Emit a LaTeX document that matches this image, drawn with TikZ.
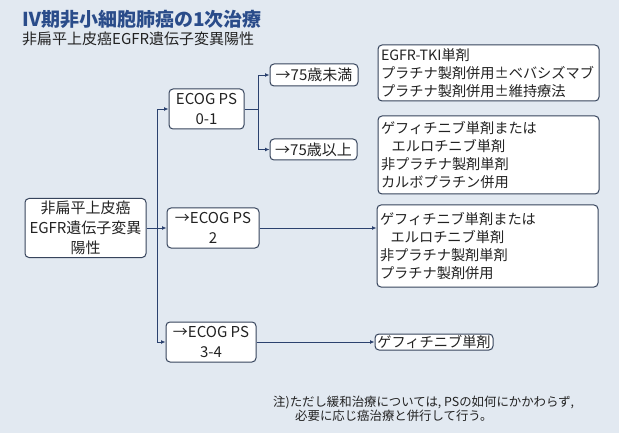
\documentclass[tikz,border=0pt]{standalone}
\usepackage{fontspec}
\setmainfont{Noto Sans CJK JP}
\usetikzlibrary{arrows.meta}
\definecolor{paper}{HTML}{E2E9F1}
\definecolor{frame}{HTML}{36445C}
\definecolor{wirec}{HTML}{2B416E}
\definecolor{headblue}{HTML}{2A4C8A}
\definecolor{ink}{HTML}{222222}
\begin{document}
\begin{tikzpicture}[x=1pt,y=-1pt,
  box/.style={draw=frame, line width=1pt, rounded corners=4pt, fill=white,
    inner sep=0pt, text=ink, font=\fontsize{14.2}{17.7}\selectfont},
  cbox/.style={box, align=center, font=\fontsize{15}{20}\selectfont},
  lbox/.style={box, align=left, inner xsep=3pt},
  wire/.style={draw=wirec, line width=0.9pt, -{Latex[length=4.5pt,width=4pt]}},
  bare/.style={draw=wirec, line width=0.9pt},
  notetext/.style={anchor=west, inner sep=0pt, text=ink, font=\fontsize{12.4}{13}\selectfont}]
% canvas
\path[fill=paper] (0,0) rectangle (619,433);
\useasboundingbox (0,0) rectangle (619,433);

% headings
\node[anchor=west, inner sep=0pt, text=headblue,
  font=\fontsize{19}{19}\selectfont\bfseries] (title) at (22,19.5) {Ⅳ期非小細胞肺癌の1次治療};
\node[anchor=west, inner sep=0pt, text=ink,
  font=\fontsize{15}{16}\selectfont] (sub) at (22,38.5) {非扁平上皮癌EGFR遺伝子変異陽性};

% decision boxes
\node[cbox, minimum width=121pt, minimum height=59pt] (root) at (85.5,228) {非扁平上皮癌\\EGFR遺伝子変異\\陽性};
\node[cbox, minimum width=75pt, minimum height=40pt] (ps01) at (206.5,109) {ECOG PS\\0-1};
\node[cbox, minimum width=92pt, minimum height=40pt] (ps2) at (213,228) {→ECOG PS\\2};
\node[cbox, minimum width=90pt, minimum height=40pt] (ps34) at (211,342) {→ECOG PS\\3-4};
\node[box, minimum width=88pt, minimum height=22pt, font=\fontsize{15}{17}\selectfont] (age1) at (314,75) {→75歳未満};
\node[box, minimum width=87pt, minimum height=21pt, font=\fontsize{15}{17}\selectfont] (age2) at (313.5,149.5) {→75歳以上};

% treatment boxes
\node[lbox, text width=215pt, minimum height=56pt] (t1) at (488.5,73)
  {EGFR-TKI単剤\\プラチナ製剤併用±ベバシズマブ\\プラチナ製剤併用±維持療法};
\node[lbox, text width=215pt, minimum height=78pt] (t2) at (488.5,155)
  {ゲフィチニブ単剤または\\\hspace*{0.75em}エルロチニブ単剤\\非プラチナ製剤単剤\\カルボプラチン併用};
\node[lbox, text width=215pt, minimum height=82pt] (t3) at (487.5,246)
  {ゲフィチニブ単剤または\\\hspace*{0.75em}エルロチニブ単剤\\非プラチナ製剤単剤\\プラチナ製剤併用};
\node[box, minimum width=118pt, minimum height=16pt] (t4) at (434,342) {ゲフィチニブ単剤};

% connectors
\coordinate (j1) at (157,228);
\coordinate (j2) at (258,109);
\draw[wire] (root.east) -- (ps2.west);
\draw[wire] (j1) |- (ps01.west);
\draw[wire] (j1) |- (ps34.west);
\draw[bare] (ps01.east) -- (j2);
\draw[wire] (j2) |- (age1.west);
\draw[wire] (j2) |- (age2.west);
\draw[wire] (ps2.east) -- (ps2.east -| t3.west);
\draw[wire] (ps34.east) -- (t4.west);

% footnote
\node[notetext] (note1) at (273,402) {注)ただし緩和治療については, PSの如何にかかわらず,};
\node[notetext] (note2) at (295,416) {必要に応じ癌治療と併行して行う。};
\end{tikzpicture}
\end{document}
